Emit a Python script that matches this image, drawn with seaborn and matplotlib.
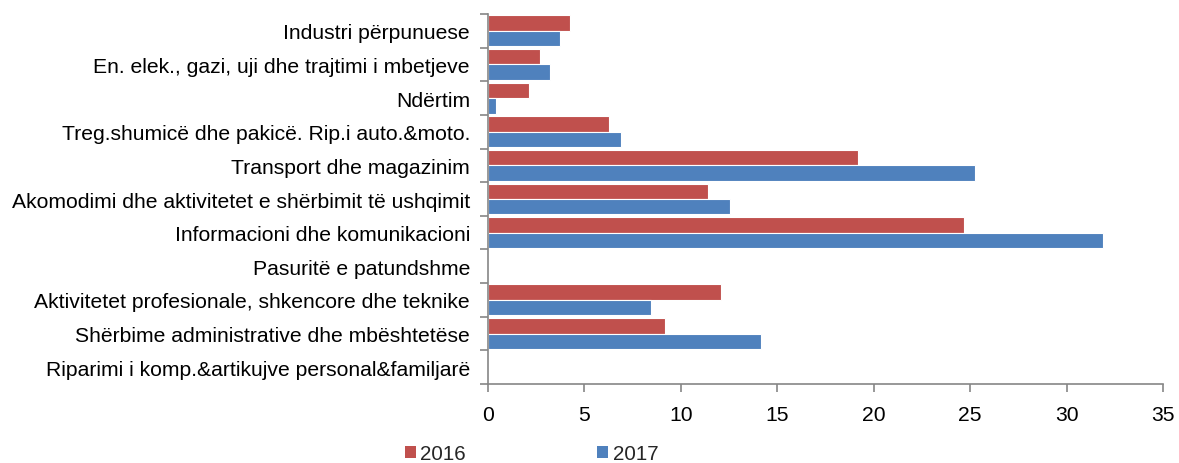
import matplotlib
matplotlib.use("Agg")
import matplotlib.pyplot as plt
from matplotlib.patches import Patch
import seaborn as sns
import pandas as pd
import numpy as np

categories = [
    "Industri përpunuese",
    "En. elek., gazi, uji dhe trajtimi i mbetjeve",
    "Ndërtim",
    "Treg.shumicë dhe pakicë. Rip.i auto.&moto.",
    "Transport dhe magazinim",
    "Akomodimi dhe aktivitetet e shërbimit të ushqimit",
    "Informacioni dhe komunikacioni",
    "Pasuritë e patundshme",
    "Aktivitetet profesionale, shkencore dhe teknike",
    "Shërbime administrative dhe mbështetëse",
    "Riparimi i komp.&artikujve personal&familjarë",
]
values_2016 = [4.25, 2.7, 2.1, 6.25, 19.2, 11.43, 24.7, 0.0, 12.07, 9.2, 0.0]
values_2017 = [3.75, 3.2, 0.4, 6.92, 25.23, 12.53, 31.87, 0.0, 8.45, 14.13, 0.0]
series = ["2016", "2017"]
colors = ["#C0504D", "#4F81BD"]

df = pd.DataFrame({
    "category": categories * 2,
    "value": values_2016 + values_2017,
    "year": [series[0]] * len(categories) + [series[1]] * len(categories),
})

sns.set_theme(style="white")
plt.rcParams["font.family"] = ["Liberation Sans", "DejaVu Sans"]

FS = 15.2
LFS = 14.8
fig = plt.figure(figsize=(11.79, 4.64), dpi=100)
ax = fig.add_axes([488 / 1179, 1 - 385 / 464, (1163 - 488) / 1179, (385 - 15) / 464])

sns.barplot(data=df, y="category", x="value", hue="year", order=categories,
            hue_order=series, palette=colors, orient="h", width=0.92,
            edgecolor="white", linewidth=0.8, saturation=1, ax=ax, legend=False)

ax.set_xlim(0, 35)
ax.set_ylim(len(categories) - 0.5, -0.5)
ax.set_xticks(np.arange(0, 36, 5))
ax.set_xlabel("")
ax.set_ylabel("")

grey = "#868686"
for s in ["top", "right"]:
    ax.spines[s].set_visible(False)
for s in ["left", "bottom"]:
    ax.spines[s].set_color(grey)
    ax.spines[s].set_linewidth(1.2)

ax.tick_params(axis="y", which="major", length=0, pad=13, labelsize=FS, labelcolor="black")
ax.set_yticks(np.arange(-0.5, len(categories) + 0.5, 1), minor=True)
ax.tick_params(axis="y", which="minor", length=6, width=1.2, color=grey, direction="out", left=True)
ax.tick_params(axis="x", which="major", length=6, width=1.2, color=grey, direction="out",
               bottom=True, pad=9, labelsize=FS, labelcolor="black")

handles = [Patch(facecolor=c, edgecolor="none") for c in colors]
fig.legend(handles, series, loc="center left", bbox_to_anchor=(405 / 1179, 1 - 455 / 464),
           ncol=2, frameon=False, fontsize=LFS, handlelength=0.52, handleheight=0.52,
           handletextpad=0.22, columnspacing=6.4, borderaxespad=0, borderpad=0)

fig.savefig("out.png", dpi=100)
